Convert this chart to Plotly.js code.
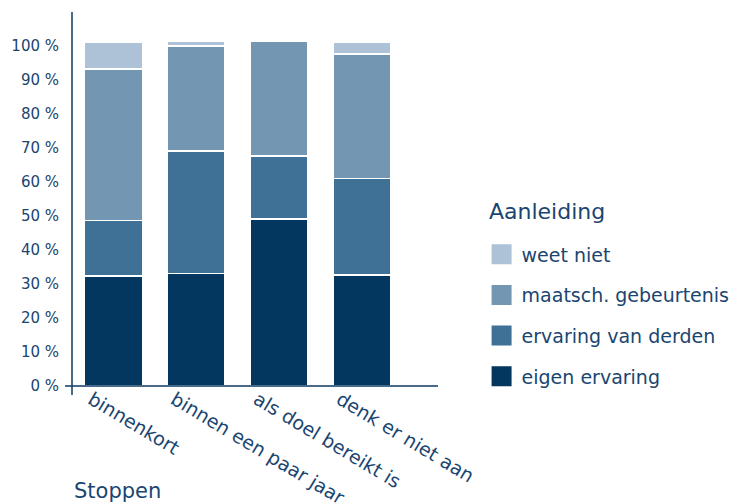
<!DOCTYPE html>
<html>
<head>
<meta charset="utf-8">
<script src="https://cdn.plot.ly/plotly-3.0.1.min.js"></script>
<style>html,body{margin:0;padding:0;background:#fff;}</style>
</head>
<body>
<div id="chart" style="width:733px;height:504px;"></div>
<script>
const categories = ["binnenkort", "binnen een paar jaar", "als doel bereikt is", "denk er niet aan"];
const eigenErvaring = [32.4, 33.1, 49.1, 32.6];
const ervaringVanDerden = [16.3, 36.0, 18.6, 28.4];
const maatschGebeurtenis = [44.5, 30.9, 33.8, 36.6];
const weetNiet = [8.0, 1.5, 0, 3.6];
const seriesNames = ["eigen ervaring", "ervaring van derden", "maatsch. gebeurtenis", "weet niet"];
const seriesColors = ["#03375f", "#3f7197", "#7396b3", "#aec2d7"];
const yTicks = [0, 10, 20, 30, 40, 50, 60, 70, 80, 90, 100];
const yTickLabels = ["0 %", "10 %", "20 %", "30 %", "40 %", "50 %", "60 %", "70 %", "80 %", "90 %", "100 %"];
const legendTitle = "Aanleiding";
const xTitle = "Stoppen";

const textColor = "#1a4570";
const axisColor = "#0b3a62";
const font = "DejaVu Sans";

const seriesValues = [eigenErvaring, ervaringVanDerden, maatschGebeurtenis, weetNiet];

const traces = [];
seriesValues.forEach((vals, i) => {
  traces.push({
    type: "bar",
    x: categories,
    y: vals,
    name: seriesNames[i],
    marker: {color: seriesColors[i], line: {color: "#ffffff", width: 1.5}},
    showlegend: false,
    hoverinfo: "skip"
  });
});
// legend entries (top to bottom)
for (let i = seriesNames.length - 1; i >= 0; i--) {
  traces.push({
    type: "scatter",
    mode: "markers",
    x: [null],
    y: [null],
    name: seriesNames[i],
    legendgroup: "g" + i,
    marker: {symbol: "square", size: 16, color: seriesColors[i], line: {color: seriesColors[i], width: 4}},
    hoverinfo: "skip",
    showlegend: true
  });
}

const layout = {
  width: 733,
  height: 504,
  margin: {l: 72, r: 295, t: 12, b: 118},
  paper_bgcolor: "#ffffff",
  plot_bgcolor: "#ffffff",
  barmode: "stack",
  bargap: 0.3,
  font: {family: font, color: textColor},
  xaxis: {
    type: "category",
    range: [-0.5, 3.92],
    showline: false,
    showgrid: false,
    zeroline: false,
    ticks: "",
    tickangle: 31,
    ticklabelshift: -22,
    ticklabelstandoff: -2,
    tickfont: {family: font, size: 19, color: textColor}
  },
  yaxis: {
    range: [0, 110],
    tickmode: "array",
    tickvals: yTicks,
    ticktext: yTickLabels,
    showline: false,
    showgrid: false,
    zeroline: false,
    ticks: "",
    ticklabelstandoff: 12,
    tickfont: {family: font, size: 15, color: textColor}
  },
  legend: {
    xref: "container",
    yref: "container",
    x: 0.657,
    xanchor: "left",
    y: 0.533,
    yanchor: "top",
    traceorder: "grouped",
    tracegroupgap: 13,
    font: {family: font, size: 19, color: textColor},
    bgcolor: "rgba(0,0,0,0)"
  },
  shapes: [
    {type: "line", xref: "paper", yref: "paper", x0: 0, x1: 0, y0: -0.024, y1: 1, line: {color: axisColor, width: 1.5}},
    {type: "line", xref: "paper", yref: "paper", x0: -0.019, x1: 1, y0: 0, y1: 0, line: {color: axisColor, width: 1.5}}
  ],
  annotations: [
    {text: xTitle, xref: "paper", yref: "paper", x: 0, y: -0.281, xanchor: "left", yanchor: "middle", showarrow: false, font: {family: font, size: 21, color: textColor}},
    {text: legendTitle, xref: "paper", yref: "paper", x: (487 - 72) / 366, y: (386 - 212) / 374, xanchor: "left", yanchor: "middle", showarrow: false, font: {family: font, size: 22, color: textColor}}
  ]
};

Plotly.newPlot("chart", traces, layout, {displayModeBar: false, staticPlot: true});
</script>
</body>
</html>
